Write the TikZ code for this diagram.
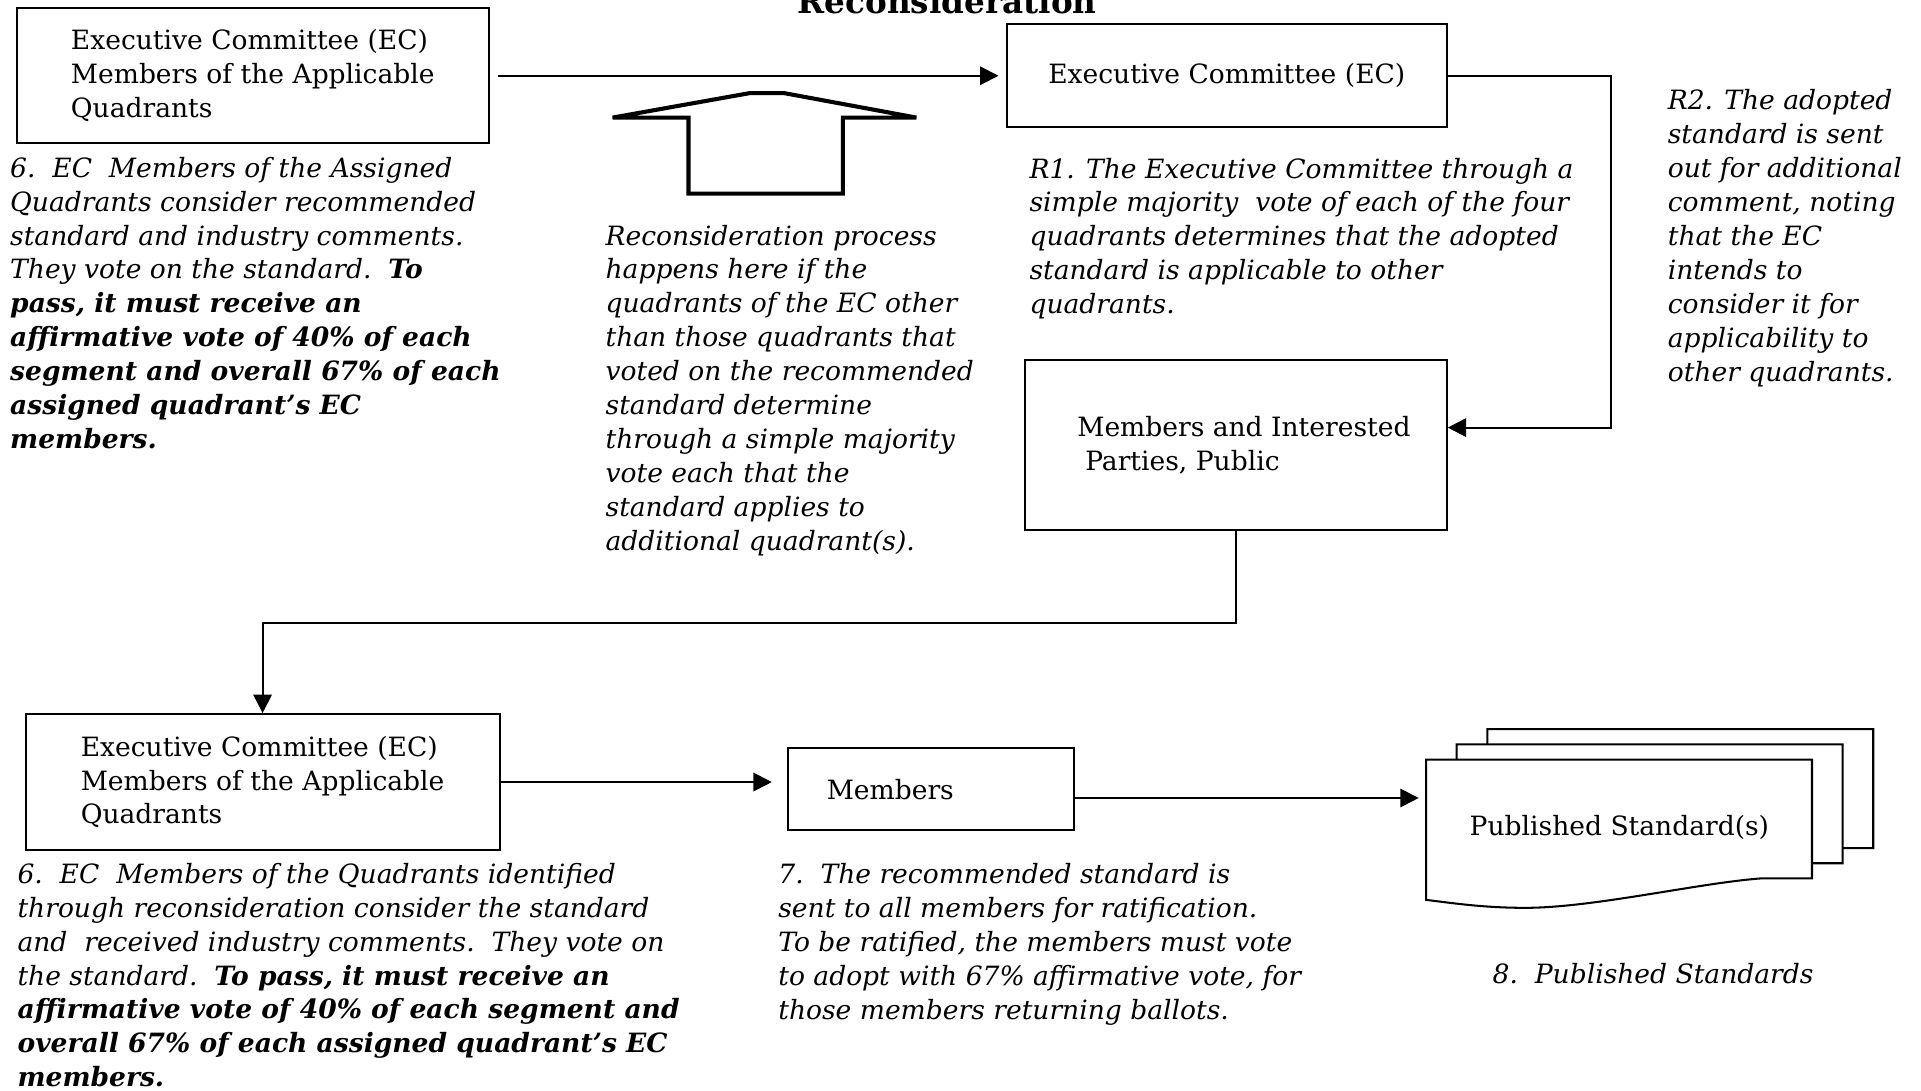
\documentclass[tikz,border=0pt]{standalone}
\usepackage{fontspec}
\setmainfont{DejaVu Serif}
\usetikzlibrary{arrows.meta,calc}
\newcommand{\px}{0.6pt}

\begin{document}
\begin{tikzpicture}
    [   x = 0.6pt
    ,   y = -0.6pt
    ,   > = {Triangle[length=9pt,width=9pt]}
    ,   box/.style =
        {   draw
        ,   line width = 1pt
        ,   anchor = north west
        ,   align = left
        ,   inner sep = 0pt
        ,   font = \fontsize{13pt}{16.6pt}\selectfont
        }
    ,   note/.style =
        {   anchor = base west
        ,   align = left
        ,   inner sep = 0pt
        ,   font = \fontsize{13pt}{16.6pt}\selectfont\itshape
        }
    ,   flow/.style =
        {   ->
        ,   line width = 1pt
        }
    ,   sheet/.style =
        {   draw
        ,   fill = white
        ,   line width = 1pt
        }
    ]
    \useasboundingbox (0,0) rectangle (1568,890);

    \node[anchor=base, font=\fontsize{16pt}{19pt}\selectfont\bfseries] (title) at (773,11) {Reconsideration};

    \node[box, minimum width=385*\px, minimum height=110*\px] (ecA) at (13,6)
        {Executive Committee (EC)\\Members of the Applicable\\Quadrants};
    \node[box, minimum width=359*\px, minimum height=84*\px] (ec) at (821,19)
        {Executive Committee (EC)};
    \node[box, minimum width=344*\px, minimum height=139*\px] (mip) at (836,293)
        {\hspace*{0.6em}Members and Interested\\\hspace*{0.9em}Parties, Public};
    \node[box, minimum width=387*\px, minimum height=111*\px] (ecB) at (20,582)
        {Executive Committee (EC)\\Members of the Applicable\\Quadrants};
    \node[box, minimum width=234*\px, minimum height=67*\px, text width=170*\px] (mem) at (642,610)
        {Members};

    \node[note] (stepA) at (8,366)
        {6.\ \ EC\ \ Members of the Assigned\\Quadrants consider recommended\\standard and industry comments.\\They vote on the standard.\ \ \textbf{To}\\\textbf{pass, it must receive an}\\\textbf{affirmative vote of 40\% of each}\\\textbf{segment and overall 67\% of each}\\\textbf{assigned quadrant’s EC}\\\textbf{members.}};
    \node[note] (recon) at (494,449)
        {Reconsideration process\\happens here if the\\quadrants of the EC other\\than those quadrants that\\voted on the recommended\\standard determine\\through a simple majority\\vote each that the\\standard applies to\\additional quadrant(s).};
    \node[note] (stepR1) at (840,256)
        {R1. The Executive Committee through a\\simple majority\ \ vote of each of the four\\quadrants determines that the adopted\\standard is applicable to other\\quadrants.};
    \node[note] (stepR2) at (1361,311)
        {R2. The adopted\\standard is sent\\out for additional\\comment, noting\\that the EC\\intends to\\consider it for\\applicability to\\other quadrants.};
    \node[note] (stepB) at (14,887)
        {6.\ \ EC\ \ Members of the Quadrants identified\\through reconsideration consider the standard\\and\ \ received industry comments.\ \ They vote on\\the standard.\ \ \textbf{To pass, it must receive an}\\\textbf{affirmative vote of 40\% of each segment and}\\\textbf{overall 67\% of each assigned quadrant’s EC}\\\textbf{members.}};
    \node[note] (step7) at (635,832)
        {7.\ \ The recommended standard is\\sent to all members for ratification.\\To be ratified, the members must vote\\to adopt with 67\% affirmative vote, for\\those members returning ballots.};
    \node[note] (step8) at (1218,803)
        {8.\ \ Published Standards};

    \draw[line width=2pt] (562,158) -- (562,96) -- (500,96) -- (612,76) -- (640,76)
        -- (748,96) -- (688,96) -- (688,158) -- cycle;

    \foreach\i in {2,1,0}
    {   \draw[sheet, shift={(25*\i,-12.4*\i)}] (1164,620) -- (1479,620) -- (1479,717) -- (1437,717)
            .. controls (1385,721) and (1300,741) .. (1245,741)
            .. controls (1210,741) and (1185,737) .. (1164,734.5) -- cycle;
    }
    \node[anchor=north west, inner sep=0pt, minimum width=315*\px, minimum height=110*\px,
          font=\fontsize{13pt}{16.6pt}\selectfont] (pub) at (1164,620) {Published Standard(s)};

    \coordinate (bendR) at (1315,349);
    \draw[flow, shorten <=4.2pt, shorten >=3.6pt] (ecA.east) -- (ec.west);
    \draw[flow] (ec.east) -| (bendR) -- (mip.east |- bendR);
    \draw[flow] (mip.south) -- ++(0,75) -| (ecB.north);
    \draw[flow, shorten >=7.2pt] (ecB.east) -- (mem.west |- ecB.east);
    \draw[flow, shorten >=3.6pt] ([yshift=-4.2pt]mem.east) -- ([yshift=-4.2pt]mem.east -| pub.west);

\end{tikzpicture}
\end{document}
